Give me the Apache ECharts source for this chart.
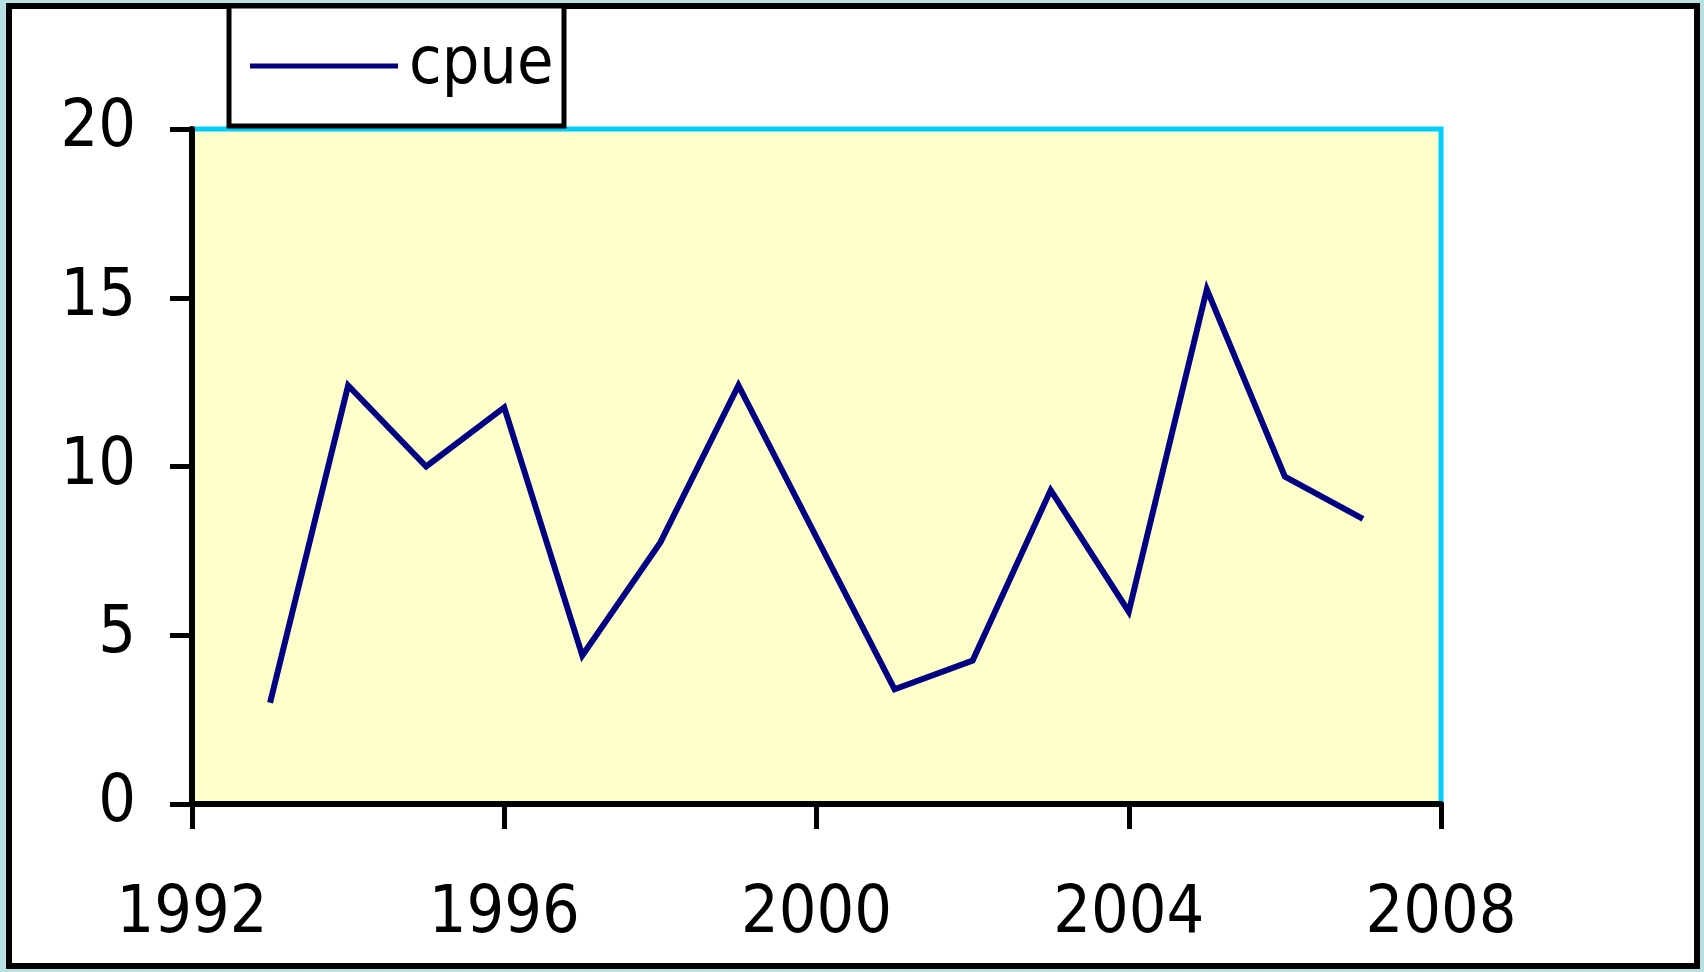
<!DOCTYPE html>
<html><head><meta charset="utf-8">
<script src="https://cdn.jsdelivr.net/npm/echarts@6/dist/echarts.min.js"></script>
<style>html,body{margin:0;padding:0;background:#b9e0e3;}#c{width:1704px;height:972px;}</style>
</head><body><div id="c"></div>
<script>
const years = [1993,1994,1995,1996,1997,1998,1999,2001,2002,2003,2004,2005,2006,2007];
const cpue  = [3.0,12.4,10.0,11.75,4.4,7.75,12.4,3.4,4.25,9.3,5.7,15.25,9.7,8.45];
const xTicks = [1992,1996,2000,2004,2008];
const yTicks = [0,5,10,15,20];
const seriesName = 'cpue';

function hasFont(name){
  const c = document.createElement('canvas').getContext('2d');
  const s = 'mmmmwwwwlli1992';
  let diff = false;
  for (const base of ['monospace','serif']){
    c.font = '40px ' + base; const w0 = c.measureText(s).width;
    c.font = '40px "' + name + '",' + base; const w1 = c.measureText(s).width;
    if (Math.abs(w0-w1) > 0.5) diff = true;
  }
  return diff;
}
let FONT, FS;
if (hasFont('Liberation Sans Narrow')) { FONT = '"Liberation Sans Narrow"'; FS = 70; }
else if (hasFont('DejaVu Sans Condensed')) { FONT = '"DejaVu Sans Condensed"'; FS = 66; }
else { FONT = '"DejaVu Sans",sans-serif'; FS = 63; }

const chart = echarts.init(document.getElementById('c'), null, {renderer:'canvas'});
chart.setOption({
  backgroundColor: 'transparent',
  animation: false,
  graphic: [
    {type:'rect', z:-10, shape:{x:9,y:6,width:1688,height:960}, style:{fill:'#ffffff', stroke:'#000000', lineWidth:6}},
    {type:'rect', z:50, shape:{x:229,y:6,width:335,height:120}, style:{fill:'#ffffff', stroke:'#000000', lineWidth:5}}
  ],
  legend: {
    data: [seriesName], left: 245, top: 28, z: 60,
    icon: 'rect', itemWidth: 148, itemHeight: 5, itemGap: 10,
    textStyle: {fontFamily: FONT, fontSize: FS, color:'#000', padding:[0,0,0,6]}
  },
  grid: {left:192, right:263, top:129, bottom:168, show:true, backgroundColor:'#ffffcc', borderColor:'#00ccff', borderWidth:5},
  xAxis: {
    type:'value', min:1992, max:2008, interval:4,
    axisLine:{show:true, onZero:false, lineStyle:{color:'#000', width:6}},
    axisTick:{show:true, length:25, lineStyle:{color:'#000', width:5}, customValues: xTicks},
    axisLabel:{fontFamily:FONT, fontSize:FS, color:'#000', margin:78, customValues: xTicks, formatter: v => String(v)},
    splitLine:{show:false}
  },
  yAxis: {
    type:'value', min:0, max:20, interval:5,
    axisLine:{show:true, onZero:false, lineStyle:{color:'#000', width:6}},
    axisTick:{show:true, length:22, lineStyle:{color:'#000', width:5}, customValues: yTicks},
    axisLabel:{fontFamily:FONT, fontSize:FS, color:'#000', margin:56, customValues: yTicks, formatter: v => String(v)},
    splitLine:{show:false}
  },
  series: [{
    name: seriesName, type:'line', showSymbol:false, symbol:'none',
    data: years.map((y,i)=>[y,cpue[i]]),
    lineStyle:{color:'#000080', width:6, cap:'butt', join:'miter'},
    itemStyle:{color:'#000080'}
  }]
});
</script></body></html>
